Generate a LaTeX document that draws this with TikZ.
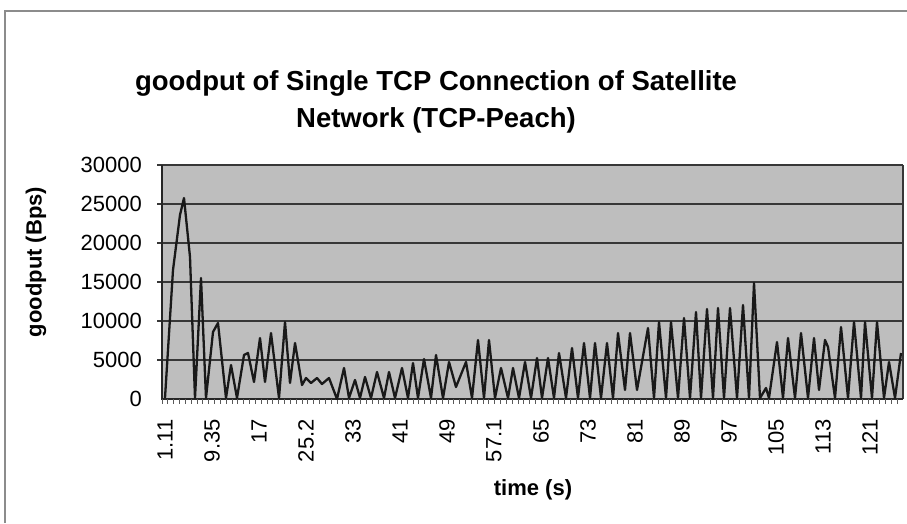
\documentclass[tikz,border=0pt]{standalone}
\usepackage{fontspec}
\setmainfont{Liberation Sans}
\definecolor{plotbg}{RGB}{190,190,190}
\definecolor{gridc}{RGB}{55,55,55}
\definecolor{framec}{RGB}{140,140,140}
\definecolor{tickc}{RGB}{90,90,90}
\begin{document}
\begin{tikzpicture}[x=1pt,y=-1pt,
  gridline/.style={draw=gridc, line width=1.3pt},
  axisline/.style={draw=black!85, line width=1.5pt},
  ytick/.style={anchor=east, inner sep=0pt, font=\fontsize{22}{26}\selectfont},
  xtick/.style={anchor=east, rotate=90, inner sep=0pt, font=\fontsize{22}{26}\selectfont},
  dataline/.style={draw=black!90, line width=2.3pt, line join=round},
  titletext/.style={anchor=base, inner sep=0pt, font=\fontsize{27.5}{32}\selectfont\bfseries},
  axistitle/.style={inner sep=0pt, font=\fontsize{22}{26}\selectfont\bfseries}]
\useasboundingbox (0,0) rectangle (907,523);
\fill[white] (0,0) rectangle (907,523);
\draw[framec, line width=1.5pt] (5,523) -- (5,11) -- (907,11);
% plot area
\fill[plotbg] (162,165) rectangle (903,399);
\foreach \y in {165,204,243,282,321,360} {\draw[gridline] (157,\y) -- (903,\y);}
\draw[gridline] (903,165) -- (903,399);
\draw[axisline] (162,165) -- (162,399) -- (903,399);
\foreach \i in {0,...,126} {\draw[tickc, line width=0.8pt] ({162+\i*5.835},399) -- ++(0,5);}
% y tick labels
\node[ytick] (y0) at (142,399) {0};
\node[ytick] (y1) at (142,360) {5000};
\node[ytick] (y2) at (142,321) {10000};
\node[ytick] (y3) at (142,282) {15000};
\node[ytick] (y4) at (142,243) {20000};
\node[ytick] (y5) at (142,204) {25000};
\node[ytick] (y6) at (142,165) {30000};
% x tick labels
\foreach \lab [count=\k from 0] in {1.11,9.35,17,25.2,33,41,49,57.1,65,73,81,89,97,105,113,121}
  {\node[xtick] (x\k) at ({165+\k*47},419) {\lab};}
% data
\draw[dataline] plot coordinates {(165,398) (173,270) (180,215) (184,198) (190,257) (195,398) (201,278) (206,398) (213,332) (218,323) (226,398) (231,365) (237,398) (244,355) (248,353) (254,382) (260,338) (265,382) (271,333) (279,398) (285,322) (290,383) (295,343) (302,385) (306,378) (311,383) (317,378) (322,384) (329,378) (337,399) (344,368) (349,398) (355,380) (360,398) (365,377) (371,398) (377,372) (384,398) (389,372) (395,398) (402,368) (408,398) (413,363) (418,398) (424,359) (431,398) (436,355) (443,398) (449,362) (456,387) (466,362) (472,398) (478,340) (484,398) (489,340) (495,398) (501,368) (508,398) (513,368) (519,398) (525,362) (531,398) (537,358) (542,398) (548,358) (554,398) (559,353) (566,398) (572,348) (578,398) (584,343) (590,398) (595,343) (601,398) (607,343) (613,398) (618,333) (625,390) (630,333) (637,390) (648,328) (654,398) (659,322) (666,398) (671,322) (678,398) (684,318) (690,398) (696,312) (701,398) (707,309) (713,398) (718,308) (724,398) (730,308) (737,398) (743,305) (749,398) (754,283) (760,398) (766,388) (769,398) (777,342) (783,398) (788,338) (795,398) (801,333) (808,398) (814,338) (819,390) (825,340) (828,347) (835,398) (841,327) (848,398) (854,322) (861,398) (865,322) (872,398) (877,322) (884,398) (889,362) (895,398) (901,353)};
% titles
\node[titletext] (title1) at (436,90) {goodput of Single TCP Connection of Satellite};
\node[titletext] (title2) at (436,127) {Network (TCP-Peach)};
\node[axistitle, rotate=90] (ylab) at (36,262) {goodput (Bps)};
\node[axistitle] (xlab) at (533,490) {time (s)};
\end{tikzpicture}
\end{document}
